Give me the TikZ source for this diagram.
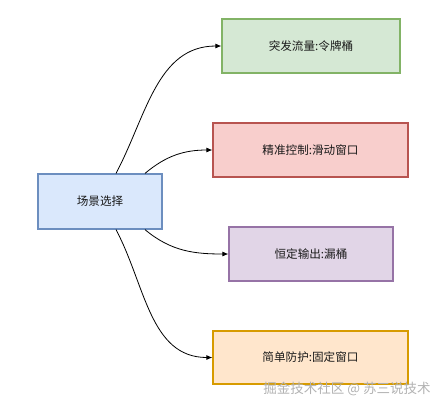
\documentclass[tikz,border=0pt]{standalone}
\usepackage{fontspec}
\setmainfont{Noto Sans CJK SC}
\usetikzlibrary{arrows.meta}
\definecolor{srcfill}{HTML}{DAE8FC}
\definecolor{srcline}{HTML}{6C8EBF}
\definecolor{grnfill}{HTML}{D5E8D4}
\definecolor{grnline}{HTML}{82B366}
\definecolor{redfill}{HTML}{F8CECC}
\definecolor{redline}{HTML}{B85450}
\definecolor{purfill}{HTML}{E1D5E7}
\definecolor{purline}{HTML}{9673A6}
\definecolor{orgfill}{HTML}{FFE6CC}
\definecolor{orgline}{HTML}{D79B00}
\definecolor{ink}{HTML}{1A1A1A}

\begin{document}
\begin{tikzpicture}[x=1pt,y=-1pt,font=\fontsize{11.6}{13}\selectfont,
 box/.style={draw,line width=1.2pt,inner sep=0pt,minimum height=54pt,text=ink},
 flow/.style={-{Latex[length=6pt,width=5pt]},draw=black,line width=.8pt}]
\path[use as bounding box] (0,0) rectangle (445,408);
\node[box,fill=srcfill,draw=srcline,minimum width=124pt,minimum height=55pt] (scene) at (100,201.5) {场景选择};
% four algorithms on the right
\node[box,fill=grnfill,draw=grnline,minimum width=178pt] (burst) at (311,46) {突发流量:令牌桶};
\node[box,fill=redfill,draw=redline,minimum width=195pt] (slide) at (310.5,150) {精准控制:滑动窗口};
\node[box,fill=purfill,draw=purline,minimum width=164pt] (leak) at (311,254) {恒定输出:漏桶};
\node[box,fill=orgfill,draw=orgline,minimum width=195pt,minimum height=53pt] (fixed) at (310.5,357.5) {简单防护:固定窗口};
\draw[flow] ([xshift=16pt]scene.north) to[out=62,in=180] (burst.west);
\draw[flow] ([xshift=45pt]scene.north) to[out=40,in=180] (slide.west);
\draw[flow] ([xshift=45pt]scene.south) to[out=-40,in=180] (leak.west);
\draw[flow] ([xshift=16pt]scene.south) to[out=-62,in=180] (fixed.west);
\node[text=black!30,font=\fontsize{13.5}{15}\selectfont] (mark) at (347,389) {掘金技术社区 @ 苏三说技术};
\end{tikzpicture}
\end{document}
